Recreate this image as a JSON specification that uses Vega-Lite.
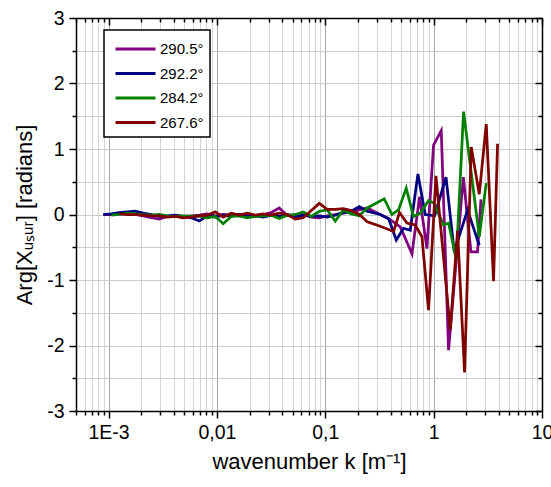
{
  "$schema": "https://vega.github.io/schema/vega-lite/v6.json",
  "width": 466,
  "height": 393,
  "autosize": "none",
  "padding": {"left": 76, "top": 18, "right": 9, "bottom": 76},
  "background": "white",
  "config": {
    "view": {"stroke": null},
    "font": "Liberation Sans",
    "legend": {"strokeWidth": 1.5}
  },
  "data": {"values": [
    {"s":"290.5°","k":0.000893,"v":0},{"s":"290.5°","k":0.001057,"v":0},{"s":"290.5°","k":0.001253,"v":0.02},{"s":"290.5°","k":0.001485,"v":0.01},{"s":"290.5°","k":0.00176,"v":0},{"s":"290.5°","k":0.002088,"v":-0.02},{"s":"290.5°","k":0.002474,"v":-0.05},{"s":"290.5°","k":0.00293,"v":-0.07},{"s":"290.5°","k":0.003475,"v":-0.03},{"s":"290.5°","k":0.00412,"v":-0.02},{"s":"290.5°","k":0.00488,"v":-0.03},{"s":"290.5°","k":0.00579,"v":-0.02},{"s":"290.5°","k":0.00687,"v":-0.01},{"s":"290.5°","k":0.00813,"v":0.01},{"s":"290.5°","k":0.00964,"v":-0.02},{"s":"290.5°","k":0.01143,"v":0},{"s":"290.5°","k":0.01355,"v":-0.01},{"s":"290.5°","k":0.01606,"v":0},{"s":"290.5°","k":0.01904,"v":0},{"s":"290.5°","k":0.02258,"v":-0.02},{"s":"290.5°","k":0.02676,"v":0},{"s":"290.5°","k":0.03172,"v":0.03},{"s":"290.5°","k":0.0376,"v":0.10},{"s":"290.5°","k":0.04457,"v":-0.02},{"s":"290.5°","k":0.05284,"v":0},{"s":"290.5°","k":0.06264,"v":0},{"s":"290.5°","k":0.07425,"v":-0.04},{"s":"290.5°","k":0.088,"v":-0.05},{"s":"290.5°","k":0.1043,"v":-0.02},{"s":"290.5°","k":0.1236,"v":0},{"s":"290.5°","k":0.1466,"v":0.02},{"s":"290.5°","k":0.1736,"v":0.04},{"s":"290.5°","k":0.2058,"v":0.07},{"s":"290.5°","k":0.244,"v":0.10},{"s":"290.5°","k":0.321,"v":0},{"s":"290.5°","k":0.397,"v":-0.08},{"s":"290.5°","k":0.492,"v":-0.19},{"s":"290.5°","k":0.631,"v":-0.6},{"s":"290.5°","k":0.741,"v":0.27},{"s":"290.5°","k":0.867,"v":-0.52},{"s":"290.5°","k":0.998,"v":1.06},{"s":"290.5°","k":1.175,"v":1.28},{"s":"290.5°","k":1.373,"v":-2.07},{"s":"290.5°","k":1.88,"v":0.57},{"s":"290.5°","k":2.209,"v":-0.57},{"s":"290.5°","k":2.542,"v":-0.57},{"s":"290.5°","k":2.733,"v":0.23},
    {"s":"292.2°","k":0.000893,"v":0},{"s":"292.2°","k":0.001057,"v":0.01},{"s":"292.2°","k":0.001253,"v":0.03},{"s":"292.2°","k":0.001485,"v":0.04},{"s":"292.2°","k":0.00176,"v":0.05},{"s":"292.2°","k":0.002088,"v":0.02},{"s":"292.2°","k":0.002474,"v":0},{"s":"292.2°","k":0.00293,"v":-0.03},{"s":"292.2°","k":0.003475,"v":-0.02},{"s":"292.2°","k":0.00412,"v":-0.01},{"s":"292.2°","k":0.00488,"v":-0.03},{"s":"292.2°","k":0.00579,"v":-0.05},{"s":"292.2°","k":0.00687,"v":-0.10},{"s":"292.2°","k":0.00813,"v":-0.02},{"s":"292.2°","k":0.00964,"v":-0.04},{"s":"292.2°","k":0.01143,"v":-0.01},{"s":"292.2°","k":0.01355,"v":-0.03},{"s":"292.2°","k":0.01606,"v":0},{"s":"292.2°","k":0.01904,"v":-0.03},{"s":"292.2°","k":0.02258,"v":-0.02},{"s":"292.2°","k":0.02676,"v":-0.04},{"s":"292.2°","k":0.03172,"v":-0.01},{"s":"292.2°","k":0.0376,"v":-0.03},{"s":"292.2°","k":0.04457,"v":0},{"s":"292.2°","k":0.05284,"v":-0.04},{"s":"292.2°","k":0.06264,"v":-0.01},{"s":"292.2°","k":0.07425,"v":-0.03},{"s":"292.2°","k":0.088,"v":-0.02},{"s":"292.2°","k":0.1043,"v":-0.04},{"s":"292.2°","k":0.1236,"v":-0.01},{"s":"292.2°","k":0.1466,"v":0.03},{"s":"292.2°","k":0.1736,"v":0.05},{"s":"292.2°","k":0.2058,"v":0.12},{"s":"292.2°","k":0.244,"v":0.05},{"s":"292.2°","k":0.321,"v":0},{"s":"292.2°","k":0.384,"v":-0.06},{"s":"292.2°","k":0.452,"v":-0.39},{"s":"292.2°","k":0.527,"v":-0.21},{"s":"292.2°","k":0.608,"v":-0.24},{"s":"292.2°","k":0.716,"v":0.62},{"s":"292.2°","k":0.836,"v":0},{"s":"292.2°","k":1.02,"v":-0.02},{"s":"292.2°","k":1.30,"v":0.57},{"s":"292.2°","k":1.549,"v":-0.57},{"s":"292.2°","k":2.055,"v":0.07},{"s":"292.2°","k":2.636,"v":-0.47},
    {"s":"284.2°","k":0.001057,"v":-0.01},{"s":"284.2°","k":0.001253,"v":0},{"s":"284.2°","k":0.001485,"v":0.02},{"s":"284.2°","k":0.00176,"v":0.01},{"s":"284.2°","k":0.002088,"v":0},{"s":"284.2°","k":0.002474,"v":-0.01},{"s":"284.2°","k":0.00293,"v":0},{"s":"284.2°","k":0.003475,"v":-0.02},{"s":"284.2°","k":0.00412,"v":-0.03},{"s":"284.2°","k":0.00488,"v":-0.02},{"s":"284.2°","k":0.00579,"v":-0.03},{"s":"284.2°","k":0.00687,"v":-0.02},{"s":"284.2°","k":0.00813,"v":-0.05},{"s":"284.2°","k":0.00964,"v":-0.03},{"s":"284.2°","k":0.01143,"v":-0.14},{"s":"284.2°","k":0.01355,"v":-0.03},{"s":"284.2°","k":0.01606,"v":-0.02},{"s":"284.2°","k":0.01904,"v":-0.05},{"s":"284.2°","k":0.02258,"v":-0.03},{"s":"284.2°","k":0.02676,"v":-0.02},{"s":"284.2°","k":0.03172,"v":-0.01},{"s":"284.2°","k":0.0376,"v":-0.06},{"s":"284.2°","k":0.04457,"v":-0.01},{"s":"284.2°","k":0.05284,"v":0},{"s":"284.2°","k":0.06264,"v":0.04},{"s":"284.2°","k":0.07425,"v":-0.03},{"s":"284.2°","k":0.088,"v":0.05},{"s":"284.2°","k":0.1043,"v":0.07},{"s":"284.2°","k":0.1236,"v":-0.10},{"s":"284.2°","k":0.1466,"v":0.07},{"s":"284.2°","k":0.1736,"v":0.01},{"s":"284.2°","k":0.2058,"v":-0.02},{"s":"284.2°","k":0.244,"v":0.10},{"s":"284.2°","k":0.35,"v":0.24},{"s":"284.2°","k":0.412,"v":0},{"s":"284.2°","k":0.474,"v":0.07},{"s":"284.2°","k":0.558,"v":0.40},{"s":"284.2°","k":0.652,"v":-0.03},{"s":"284.2°","k":0.752,"v":0.02},{"s":"284.2°","k":0.897,"v":0.21},{"s":"284.2°","k":0.998,"v":0.18},{"s":"284.2°","k":1.234,"v":-0.16},{"s":"284.2°","k":1.373,"v":-0.13},{"s":"284.2°","k":1.617,"v":-0.69},{"s":"284.2°","k":1.888,"v":1.57},{"s":"284.2°","k":2.636,"v":-0.34},{"s":"284.2°","k":3.058,"v":0.48},
    {"s":"267.6°","k":0.001253,"v":0.01},{"s":"267.6°","k":0.001485,"v":0},{"s":"267.6°","k":0.00176,"v":0},{"s":"267.6°","k":0.002088,"v":-0.01},{"s":"267.6°","k":0.002474,"v":-0.02},{"s":"267.6°","k":0.00293,"v":-0.02},{"s":"267.6°","k":0.003475,"v":-0.04},{"s":"267.6°","k":0.00412,"v":-0.03},{"s":"267.6°","k":0.00488,"v":-0.05},{"s":"267.6°","k":0.00579,"v":-0.04},{"s":"267.6°","k":0.00687,"v":-0.02},{"s":"267.6°","k":0.00813,"v":-0.01},{"s":"267.6°","k":0.00964,"v":0.04},{"s":"267.6°","k":0.01143,"v":-0.04},{"s":"267.6°","k":0.01355,"v":0.02},{"s":"267.6°","k":0.01606,"v":-0.01},{"s":"267.6°","k":0.01904,"v":0.02},{"s":"267.6°","k":0.02258,"v":-0.01},{"s":"267.6°","k":0.02676,"v":0.01},{"s":"267.6°","k":0.03172,"v":-0.01},{"s":"267.6°","k":0.0376,"v":0.02},{"s":"267.6°","k":0.04457,"v":0},{"s":"267.6°","k":0.05284,"v":-0.07},{"s":"267.6°","k":0.06264,"v":-0.05},{"s":"267.6°","k":0.07425,"v":0.06},{"s":"267.6°","k":0.088,"v":0.17},{"s":"267.6°","k":0.1043,"v":0.08},{"s":"267.6°","k":0.1236,"v":0.08},{"s":"267.6°","k":0.1466,"v":0.09},{"s":"267.6°","k":0.1736,"v":0.06},{"s":"267.6°","k":0.2058,"v":0},{"s":"267.6°","k":0.244,"v":-0.11},{"s":"267.6°","k":0.321,"v":-0.18},{"s":"267.6°","k":0.427,"v":-0.26},{"s":"267.6°","k":0.484,"v":0.03},{"s":"267.6°","k":0.567,"v":-0.13},{"s":"267.6°","k":0.676,"v":-0.16},{"s":"267.6°","k":0.78,"v":-0.34},{"s":"267.6°","k":0.897,"v":-1.46},{"s":"267.6°","k":1.05,"v":0.59},{"s":"267.6°","k":1.423,"v":-1.76},{"s":"267.6°","k":1.663,"v":-0.25},{"s":"267.6°","k":1.929,"v":-2.41},{"s":"267.6°","k":2.223,"v":1.03},{"s":"267.6°","k":2.636,"v":0.31},{"s":"267.6°","k":3.058,"v":1.38},{"s":"267.6°","k":3.57,"v":-1.02},{"s":"267.6°","k":3.89,"v":1.08}
  ]},
  "layer": [
    {
      "mark": {"type": "line", "strokeWidth": 2.75, "clip": true},
      "encoding": {
        "x": {
          "field": "k", "type": "quantitative",
          "scale": {"type": "log", "domain": [0.0005, 10], "nice": false},
          "axis": {
            "title": "wavenumber k [m⁻¹]",
            "values": [0.0005,0.0006,0.0007,0.0008,0.0009,0.001,0.002,0.003,0.004,0.005,0.006,0.007,0.008,0.009,0.01,0.02,0.03,0.04,0.05,0.06,0.07,0.08,0.09,0.1,0.2,0.3,0.4,0.5,0.6,0.7,0.8,0.9,1,2,3,4,5,6,7,8,9,10],
            "labelExpr": "datum.value == 0.001 ? '1E-3' : datum.value == 0.01 ? '0,01' : datum.value == 0.1 ? '0,1' : datum.value == 1 ? '1' : datum.value == 10 ? '10' : ''",
            "labelFlush": false, "labelOverlap": false, "labelBound": false,
            "labelFontSize": 19.5, "labelColor": "black", "labelPadding": 5, "labelFont": "Liberation Sans",
            "tickColor": "black", "tickWidth": 1.5,
            "tickSize": {"condition": {"test": "datum.value == 0.001 || datum.value == 0.01 || datum.value == 0.1 || datum.value == 1 || datum.value == 10", "value": 7}, "value": 4},
            "domainColor": "black", "domainWidth": 1.5,
            "grid": true,
            "gridColor": {"condition": {"test": "datum.value == 0.001 || datum.value == 0.01 || datum.value == 0.1 || datum.value == 1 || datum.value == 10", "value": "#a8a8a8"}, "value": "#d4d4d4"},
            "gridWidth": 1,
            "titleFontSize": 22, "titleFontWeight": "normal", "titleColor": "black", "titlePadding": 10, "titleFont": "Liberation Sans"
          }
        },
        "y": {
          "field": "v", "type": "quantitative",
          "scale": {"domain": [-3, 3], "nice": false, "zero": false},
          "axis": {
            "title": "Arg[Xᵤₛᵤᵣ] [radians]",
            "values": [-3,-2.5,-2,-1.5,-1,-0.5,0,0.5,1,1.5,2,2.5,3],
            "labelExpr": "datum.value == round(datum.value) ? '' + datum.value : ''",
            "labelOverlap": false, "labelFlush": false, "labelBound": false,
            "labelFontSize": 19.5, "labelColor": "black", "labelPadding": 5, "labelFont": "Liberation Sans",
            "tickColor": "black", "tickWidth": 1.5,
            "tickSize": {"condition": {"test": "datum.value == round(datum.value)", "value": 7}, "value": 4},
            "domainColor": "black", "domainWidth": 1.5,
            "grid": true, "gridColor": "#cccccc", "gridWidth": 1,
            "titleFontSize": 22, "titleFontWeight": "normal", "titleColor": "black", "titlePadding": 10, "titleFont": "Liberation Sans"
          }
        },
        "color": {
          "field": "s", "type": "nominal",
          "scale": {"domain": ["290.5°", "292.2°", "284.2°", "267.6°"], "range": ["#800080", "#000080", "#008000", "#800000"]},
          "legend": {
            "title": " ", "titleFontSize": 4, "titlePadding": 1.5,
            "orient": "none", "legendX": 28, "legendY": 12,
            "strokeColor": "black", "fillColor": "white", "padding": 6,
            "symbolType": "M-1,0H5.667", "symbolSize": 144, "symbolStrokeWidth": 3, "symbolOffset": 4,
            "labelFontSize": 15, "labelFont": "Liberation Sans", "labelColor": "black",
            "rowPadding": 8.5, "labelOffset": 31
          }
        }
      }
    },
    {
      "mark": {"type": "point", "opacity": 0},
      "encoding": {
        "x": {
          "field": "k", "type": "quantitative",
          "scale": {"type": "log", "domain": [0.0005, 10], "nice": false},
          "axis": {
            "orient": "top", "title": null, "labels": false, "grid": false,
            "values": [0.0005,0.0006,0.0007,0.0008,0.0009,0.001,0.002,0.003,0.004,0.005,0.006,0.007,0.008,0.009,0.01,0.02,0.03,0.04,0.05,0.06,0.07,0.08,0.09,0.1,0.2,0.3,0.4,0.5,0.6,0.7,0.8,0.9,1,2,3,4,5,6,7,8,9,10],
            "tickColor": "black", "tickWidth": 1.5,
            "tickSize": {"condition": {"test": "datum.value == 0.001 || datum.value == 0.01 || datum.value == 0.1 || datum.value == 1 || datum.value == 10", "value": -7}, "value": -4},
            "domainColor": "black", "domainWidth": 1.5
          }
        },
        "y": {
          "field": "v", "type": "quantitative",
          "scale": {"domain": [-3, 3], "nice": false, "zero": false},
          "axis": {
            "orient": "right", "title": null, "labels": false, "grid": false,
            "values": [-3,-2.5,-2,-1.5,-1,-0.5,0,0.5,1,1.5,2,2.5,3],
            "tickColor": "black", "tickWidth": 1.5,
            "tickSize": {"condition": {"test": "datum.value == round(datum.value)", "value": -7}, "value": -4},
            "domainColor": "black", "domainWidth": 1.5
          }
        }
      }
    }
  ],
  "resolve": {"axis": {"x": "independent", "y": "independent"}}
}
